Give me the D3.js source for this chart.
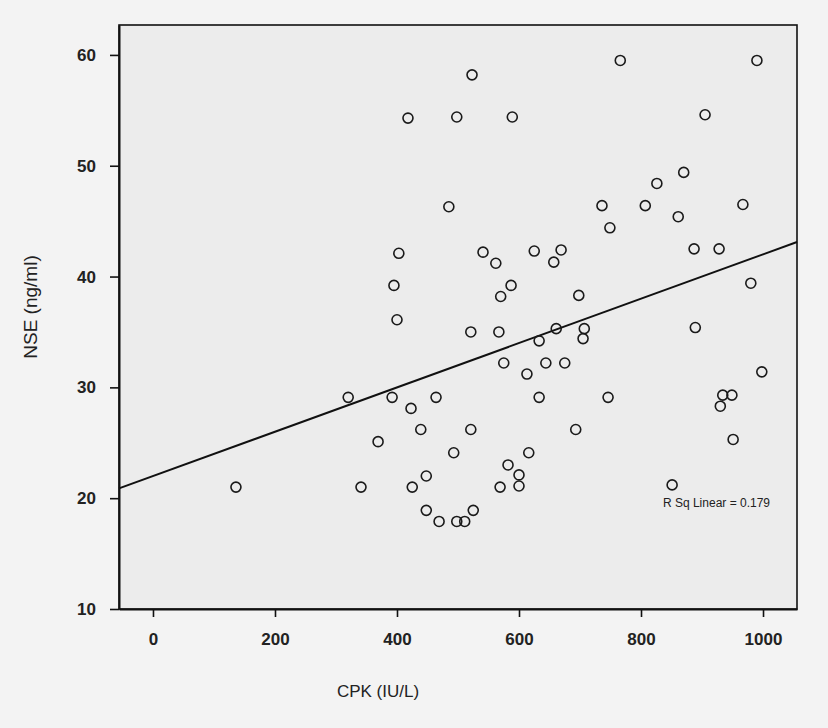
<!DOCTYPE html>
<html>
<head>
<meta charset="utf-8">
<script src="https://cdn.jsdelivr.net/npm/d3@7"></script>
<style>
  body { margin: 0; background: #f3f3f3; }
  svg text { font-family: "Liberation Sans", Arial, sans-serif; fill: #222; }
</style>
</head>
<body>
<div id="chart"></div>
<script>
// CPK (IU/L) values
const cpk = [523, 766, 990, 418, 498, 589, 905, 870, 826, 485,
  736, 807, 861, 967, 749, 403, 541, 625, 669, 657,
  562, 887, 928, 395, 587, 570, 698, 980, 400, 521,
  567, 661, 707, 705, 633, 889, 575, 644, 675, 613,
  998, 633, 746, 934, 949, 930, 521, 693, 951, 320,
  392, 464, 423, 439, 369, 493, 616, 582, 600, 448,
  341, 425, 569, 600, 851, 448, 525, 469, 498, 511, 136];

// NSE (ng/ml) values, same order
const nse = [58.2, 59.5, 59.5, 54.3, 54.4, 54.4, 54.6, 49.4, 48.4, 46.3,
  46.4, 46.4, 45.4, 46.5, 44.4, 42.1, 42.2, 42.3, 42.4, 41.3,
  41.2, 42.5, 42.5, 39.2, 39.2, 38.2, 38.3, 39.4, 36.1, 35.0,
  35.0, 35.3, 35.3, 34.4, 34.2, 35.4, 32.2, 32.2, 32.2, 31.2,
  31.4, 29.1, 29.1, 29.3, 29.3, 28.3, 26.2, 26.2, 25.3, 29.1,
  29.1, 29.1, 28.1, 26.2, 25.1, 24.1, 24.1, 23.0, 22.1, 22.0,
  21.0, 21.0, 21.0, 21.1, 21.2, 18.9, 18.9, 17.9, 17.9, 17.9, 21.0];

const xTicks = [0, 200, 400, 600, 800, 1000];
const yTicks = [10, 20, 30, 40, 50, 60];

// fit line as printed on the chart
const fitIntercept = 22.0;
const fitSlope = 0.02;
const fitLabel = "R Sq Linear = 0.179";

const margin = { top: 25, right: 31, bottom: 119, left: 119 },
  width = 828 - margin.left - margin.right,
  height = 728 - margin.top - margin.bottom;

const svg = d3.select("#chart")
  .append("svg")
  .attr("width", 828)
  .attr("height", 728)
  .append("g")
  .attr("transform", `translate(${margin.left}, ${margin.top})`);

const x = d3.scaleLinear().domain([-55.7, 1055.7]).range([0, width]);
const y = d3.scaleLinear().domain([10, 62.7]).range([height, 0]);

// plot area
svg.append("rect")
  .attr("width", width)
  .attr("height", height)
  .attr("fill", "#ececec")
  .attr("stroke", "#111")
  .attr("stroke-width", 1.6);

// axes
const xAxis = svg.append("g")
  .attr("transform", `translate(0, ${height})`)
  .call(d3.axisBottom(x).tickValues(xTicks).tickFormat(d3.format("d"))
    .tickSize(8).tickPadding(16).tickSizeOuter(0));
const yAxis = svg.append("g")
  .call(d3.axisLeft(y).tickValues(yTicks).tickFormat(d3.format("d"))
    .tickSize(9).tickPadding(14).tickSizeOuter(0));

[xAxis, yAxis].forEach((g) => {
  g.select(".domain").attr("stroke", "#111").attr("stroke-width", 2);
  g.selectAll(".tick line").attr("stroke", "#111").attr("stroke-width", 1.6);
  g.selectAll(".tick text")
    .style("font-size", "17px")
    .style("font-weight", "bold")
    .style("font-family", "'Liberation Sans', Arial, sans-serif")
    .attr("fill", "#222");
});

// regression line
svg.append("line")
  .attr("x1", x(x.domain()[0]))
  .attr("y1", y(fitIntercept + fitSlope * x.domain()[0]))
  .attr("x2", x(x.domain()[1]))
  .attr("y2", y(fitIntercept + fitSlope * x.domain()[1]))
  .attr("stroke", "#111")
  .attr("stroke-width", 2);

// points
const data = cpk.map((d, i) => ({ cpk: d, nse: nse[i] }));
svg.selectAll("circle")
  .data(data)
  .join("circle")
  .attr("cx", (d) => x(d.cpk))
  .attr("cy", (d) => y(d.nse))
  .attr("r", 5)
  .attr("fill", "none")
  .attr("stroke", "#1a1a1a")
  .attr("stroke-width", 1.6);

// fit label
svg.append("text")
  .attr("x", x(1000) + 7)
  .attr("y", y(19.2))
  .attr("text-anchor", "end")
  .style("font-size", "12px")
  .text(fitLabel);

// axis titles
svg.append("text")
  .attr("x", 378 - margin.left)
  .attr("y", 697 - margin.top)
  .attr("text-anchor", "middle")
  .style("font-size", "17px")
  .text("CPK (IU/L)");

svg.append("text")
  .attr("transform", `translate(${37 - margin.left}, ${307 - margin.top}) rotate(-90)`)
  .attr("text-anchor", "middle")
  .style("font-size", "19px")
  .text("NSE (ng/ml)");
</script>
</body>
</html>
